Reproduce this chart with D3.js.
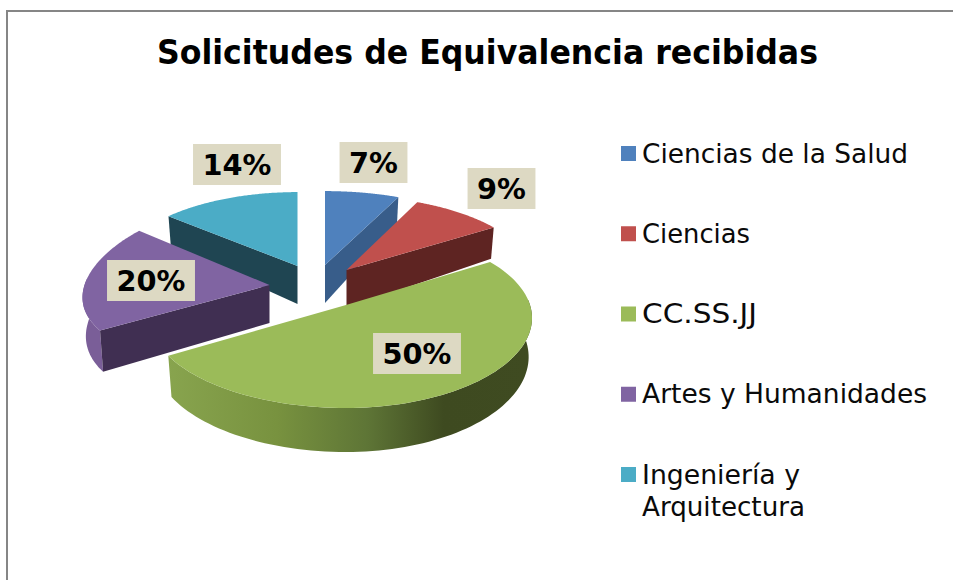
<!DOCTYPE html>
<html><head><meta charset="utf-8">
<script src="https://cdn.jsdelivr.net/npm/d3@7/dist/d3.min.js"></script>
<style>html,body{margin:0;padding:0;background:#fff;overflow:hidden}svg{display:block}</style>
</head><body><svg id="c" width="953" height="580"></svg>
<script>
const titleText = "Solicitudes de Equivalencia recibidas";
const categories = ["Ciencias de la Salud","Ciencias","CC.SS.JJ","Artes y Humanidades","Ingeniería y Arquitectura"];
const legendLines = [["Ciencias de la Salud"],["Ciencias"],["CC.SS.JJ"],["Artes y Humanidades"],["Ingeniería y","Arquitectura"]];
const legendWidths = [[266],[108],[115],[285],[158,163]];
const values = [7,9,50,20,14];
const topColors = ["#4F81BD","#C0504D","#9BBB59","#8064A2","#4BACC6"];
const faceColors = ["#385D8A","#5E2422","#3F4A20","#402F52","#1F4552"];
const rimColors = ["#385D8A","#5E2422","url(#greenWall)","#7A5E98","#1F4552"];
// layout of the exploded, tilted pie
const apexX = [325,346.5,346,269.5,297.5];
const apexY = [265,270,305,285,266];
const radiusXRight = [195,188,184,185,185];
const radiusXLeft = [185,185,194,185,183];
const radiusY = [87,87,87,85,87];
const tiltY = [.177,.177,.155,0,.177];
const labelX = [373.5,501.5,417,151,237];
const labelY = [162.5,188.5,353.5,280.5,164.5];
const drawOrder = [4,0,1,3,2];
const tiltX = .146, depth0 = 38, bottomShrink = .982;

const svg = d3.select("#c");
const defs = svg.append("defs");
const grad = defs.append("linearGradient").attr("id","greenWall").attr("gradientUnits","userSpaceOnUse")
  .attr("x1",168).attr("x2",531).attr("y1",0).attr("y2",0);
[[0,"#88A44E"],[.3,"#78923F"],[.55,"#5E7536"],[.76,"#3E4A20"],[1,"#3F4B21"]].forEach(s=>grad.append("stop").attr("offset",s[0]).attr("stop-color",s[1]));

const border = d3.path(); border.moveTo(7,580); border.lineTo(7,11); border.lineTo(953,11);
svg.append("path").attr("d",border.toString()).attr("fill","none").attr("stroke","#868686").attr("stroke-width",2);

svg.append("text").attr("x",487.5).attr("y",64).attr("text-anchor","middle")
  .attr("font-family","'DejaVu Sans'").attr("font-weight","bold").attr("font-size",33)
  .attr("textLength",661).attr("lengthAdjust","spacingAndGlyphs").text(titleText);

const arcs = d3.pie().sort(null)(values);
const line = d3.line();
const depthAt = v => depth0*(1+(v>0?.16:.33)*v);
function rimTop(i,a){
  const u=Math.sin(a), v=-Math.cos(a);
  const rx=(u>=0?radiusXRight:radiusXLeft)[i];
  return [apexX[i]+rx*u/(1-tiltX*v), apexY[i]+radiusY[i]*v/(1-tiltY[i]*v)];
}
function rimBottom(i,a){
  const p=rimTop(i,a), v=-Math.cos(a);
  return [apexX[i]+(p[0]-apexX[i])*bottomShrink, p[1]+depthAt(v)];
}
const apex = i=>[apexX[i],apexY[i]];
const apexB = i=>[apexX[i],apexY[i]+depth0];
const samples = (a0,a1)=>d3.range(0,101).map(k=>a0+(a1-a0)*k/100);

drawOrder.forEach(i=>{
  const d=arcs[i], g=svg.append("g");
  const as=samples(d.startAngle,d.endAngle);
  // outer wall
  const front=as.filter(a=>-Math.cos(a)>-.08);
  if(front.length>1){
    g.append("path").attr("d",line(front.map(a=>rimTop(i,a)).concat(front.slice().reverse().map(a=>rimBottom(i,a))))+"Z")
      .attr("fill",rimColors[i]);
  }
  // radial walls
  if(Math.sin(d.startAngle)<-1e-6){
    g.append("path").attr("d",line([apex(i),rimTop(i,d.startAngle),rimBottom(i,d.startAngle),apexB(i)])+"Z").attr("fill",faceColors[i]);
  }
  if(Math.sin(d.endAngle)>1e-6){
    g.append("path").attr("d",line([apex(i),rimTop(i,d.endAngle),rimBottom(i,d.endAngle),apexB(i)])+"Z").attr("fill",faceColors[i]);
  }
  // top
  g.append("path").attr("d",line([apex(i)].concat(as.map(a=>rimTop(i,a))))+"Z").attr("fill",topColors[i]);
});

// data labels
arcs.forEach((d,i)=>{
  const g=svg.append("g");
  const pct=Math.round(100*(d.endAngle-d.startAngle)/(2*Math.PI))+"%";
  const r=g.append("rect").attr("fill","#DDD9C3");
  const t=g.append("text").attr("x",labelX[i]).attr("y",labelY[i]+10.5).attr("text-anchor","middle")
    .attr("font-family","'DejaVu Sans'").attr("font-weight","bold").attr("font-size",28.8).text(pct);
  const w=t.node().getComputedTextLength()+19;
  r.attr("x",labelX[i]-w/2).attr("y",labelY[i]-20.5).attr("width",w).attr("height",41);
});

// legend
const legendY = d3.scalePoint().domain(categories).range([153.5,474.5]);
categories.forEach((c,i)=>{
  const y=legendY(c);
  svg.append("rect").attr("x",621).attr("y",y-7.5).attr("width",15).attr("height",15).attr("fill",topColors[i]);
  legendLines[i].forEach((l,j)=>{
    svg.append("text").attr("x",642).attr("y",y+9+j*32).attr("font-family","'DejaVu Sans'").attr("font-size",26)
      .attr("fill","#0a0a0a").attr("textLength",legendWidths[i][j]).attr("lengthAdjust","spacingAndGlyphs").text(l);
  });
});
</script></body></html>
